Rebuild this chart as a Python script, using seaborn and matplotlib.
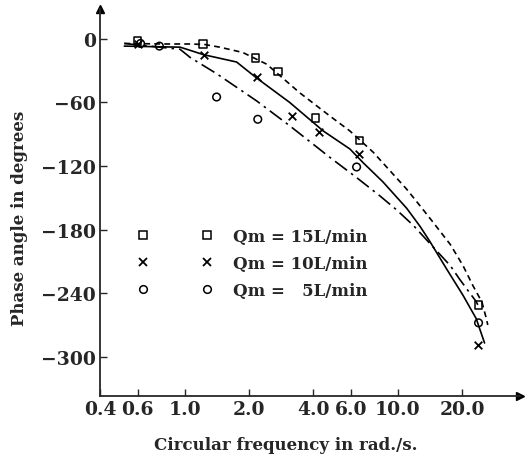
import numpy as np
import pandas as pd
import seaborn as sns
import matplotlib.pyplot as plt
from matplotlib.lines import Line2D
from matplotlib.ticker import FixedLocator, FixedFormatter, NullLocator

# ================== data ==================
# measured points
sq_x = [0.60, 1.22, 2.15, 2.73, 4.1, 6.6, 23.9]
sq_y = [-2, -5, -18, -31, -75, -96, -251]
cr_x = [0.60, 1.23, 2.19, 3.2, 4.25, 6.6, 23.7]
cr_y = [-5, -15, -36, -73, -88, -109, -289]
ci_x = [0.62, 0.76, 1.41, 2.2, 6.4, 23.9]
ci_y = [-4.5, -7, -55, -76, -121, -268]

# fitted curves
q15_x = [0.52, 0.8, 1.06, 1.24, 1.46, 1.87, 2.42, 3.46, 4.8, 5.95, 7.65, 11.0, 13.1,
         14.6, 17.6, 20.2, 22.5, 24.8, 26.0, 26.4]
q15_y = [-4.5, -5, -5, -5.5, -8, -13, -24, -51, -73, -87, -107, -142, -161,
         -173, -194, -214, -233, -248.5, -264, -270]
q10_x = [0.52, 0.95, 1.06, 1.22, 1.75, 2.17, 3.1, 4.46, 5.95, 6.87, 8.5, 11.0, 12.7,
         14.1, 16.9, 20.2, 23.3, 25.5]
q10_y = [-7, -8, -11, -15, -22, -37, -60, -87, -104, -117, -135, -160, -177,
         -191, -217, -242, -264, -287]
q5_x = [0.52, 0.95, 1.06, 1.41, 2.17, 3.1, 4.8, 6.4, 8.2, 9.8, 11.8, 14.1, 17.6,
        19.5, 23.3, 23.7]
q5_y = [-4.5, -10, -17.7, -33, -58.6, -82, -112, -131, -148, -161, -176, -193, -214,
        -227, -248, -251]

xticks = [0.4, 0.6, 1.0, 2.0, 4.0, 6.0, 10.0, 20.0]
xtick_labels = ["0.4", "0.6", "1.0", "2.0", "4.0", "6.0", "10.0", "20.0"]
yticks = [0, -60, -120, -180, -240, -300]
ytick_labels = ["0", "\u221260", "\u2212120", "\u2212180", "\u2212240", "\u2212300"]
labels = ["Qm = 15L/min", "Qm = 10L/min", "Qm =   5L/min"]

# ================== style ==================
sns.set_style("ticks")
plt.rcParams["font.family"] = ["DejaVu Serif"]
plt.rcParams["font.weight"] = "bold"

fig = plt.figure(figsize=(5.29, 4.6), dpi=100)
ax = fig.add_axes([100 / 529, 63 / 460, 420 / 529, 387 / 460])

# ================== curves ==================
for xs, ys, style in [(q15_x, q15_y, (0, (3.5, 2.5))),
                      (q10_x, q10_y, "-"),
                      (q5_x, q5_y, (0, (9, 3, 1.5, 3)))]:
    df = pd.DataFrame({"x": xs, "y": ys})
    sns.lineplot(data=df, x="x", y="y", sort=False, estimator=None,
                 color="black", lw=1.2, linestyle=style, ax=ax)

# ================== points ==================
sns.scatterplot(x=sq_x, y=sq_y, marker="s", s=30, fc="none", ec="black", lw=1.1, ax=ax, zorder=3)
sns.scatterplot(x=cr_x, y=cr_y, marker="x", s=30, color="black", lw=1.3, ax=ax, zorder=3)
sns.scatterplot(x=ci_x, y=ci_y, marker="o", s=30, fc="none", ec="black", lw=1.1, ax=ax, zorder=3)

ax.set_xscale("log")
ax.set_xlim(0.4, 37.4)
ax.set_ylim(-337, 28)

ax.xaxis.set_major_locator(FixedLocator(xticks))
ax.xaxis.set_major_formatter(FixedFormatter(xtick_labels))
ax.xaxis.set_minor_locator(NullLocator())
ax.set_yticks(yticks)
ax.set_yticklabels(ytick_labels)
ax.tick_params(direction="in", length=5, width=1, labelsize=13.5, pad=3)

for s in ["top", "right"]:
    ax.spines[s].set_visible(False)
for s in ["left", "bottom"]:
    ax.spines[s].set_linewidth(1.3)

# axis arrows
ax.plot(1, 0, ">k", ms=6, transform=ax.transAxes, clip_on=False)
ax.plot(0, 1, "^k", ms=6, transform=ax.transAxes, clip_on=False)

ax.set_xlabel("Circular frequency in rad./s.", fontsize=12, fontweight="bold")
ax.set_ylabel("Phase angle in degrees", fontsize=12, fontweight="bold")
ax.xaxis.set_label_coords(0.443, -0.103)
ax.yaxis.set_label_coords(-0.171, 0.461)

# ================== legend ==================
handles = [
    Line2D([], [], ls="none", marker="s", ms=5.5, mfc="none", mec="black", mew=1.1),
    Line2D([], [], ls="none", marker="x", ms=5.5, color="black", mew=1.3),
    Line2D([], [], ls="none", marker="o", ms=5.5, mfc="none", mec="black", mew=1.1),
]
fig.legend(handles, labels, numpoints=2, handlelength=4.44, handletextpad=1.26,
           labelspacing=0.6, frameon=False, borderpad=0, borderaxespad=0,
           prop={"family": "DejaVu Serif", "weight": "bold", "size": 12},
           loc="upper left", bbox_to_anchor=(138 / 529, 1 - 229 / 460))

plt.savefig("out.png", dpi=100)
plt.close()
